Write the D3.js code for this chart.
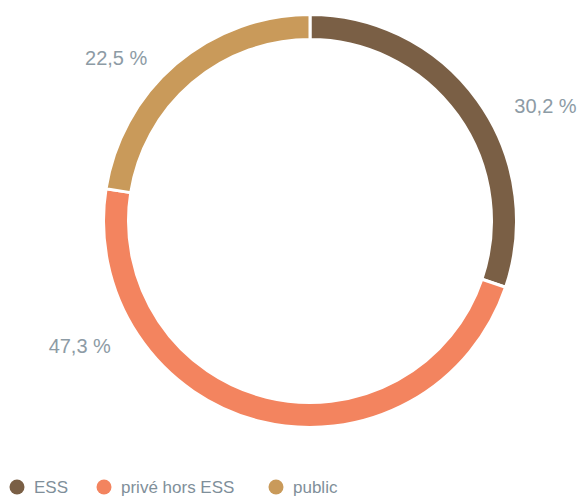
<!DOCTYPE html>
<html><head><meta charset="utf-8">
<script src="https://cdn.jsdelivr.net/npm/d3@7"></script>
<style>html,body{margin:0;padding:0;background:#fff;}svg{display:block;font-family:"Liberation Sans",Arial,sans-serif;}</style>
</head><body>
<svg id="c" width="579" height="498"></svg>
<script>
const categories = ["ESS", "privé hors ESS", "public"];
const values = [30.2, 47.3, 22.5];
const labels = ["30,2 %", "47,3 %", "22,5 %"];
const colors = ["#7a5f45", "#f3845f", "#c99a5a"];
// label placement angles (degrees, clockwise from top) and radii
const labelAngles = [64, 241.5, 310];
const labelRadii = [262, 262, 253];

const svg = d3.select("#c");
const cx = 310, cy = 221, rOuter = 206.5, rInner = 181.5;
const g = svg.append("g").attr("transform", `translate(${cx},${cy})`);
const pie = d3.pie().sort(null).value(d => d);
const arcs = pie(values);
const arc = d3.arc().innerRadius(rInner).outerRadius(rOuter);
g.selectAll("path").data(arcs).enter().append("path")
  .attr("d", arc).attr("fill", (d,i) => colors[i])
  .attr("stroke", "#fff").attr("stroke-width", 3);

g.selectAll("text.lbl").data(arcs).enter().append("text")
  .attr("class","lbl")
  .attr("x", (d,i) => labelRadii[i]*Math.sin(labelAngles[i]*Math.PI/180))
  .attr("y", (d,i) => -labelRadii[i]*Math.cos(labelAngles[i]*Math.PI/180))
  .attr("text-anchor","middle").attr("dominant-baseline","central")
  .attr("font-size", 20).attr("font-weight", 300).attr("fill", "#8d9ba5")
  .text((d,i) => labels[i]);

const legendX = [17, 104, 276];
const lg = svg.append("g");
categories.forEach((c,i) => {
  lg.append("circle").attr("cx", legendX[i]).attr("cy", 487).attr("r", 7.5).attr("fill", colors[i]);
  lg.append("text").attr("x", legendX[i]+17).attr("y", 487)
    .attr("dominant-baseline","central").attr("font-size", 17).attr("font-weight",300)
    .attr("fill","#7f8f9a").text(c);
});
</script>
</body></html>
